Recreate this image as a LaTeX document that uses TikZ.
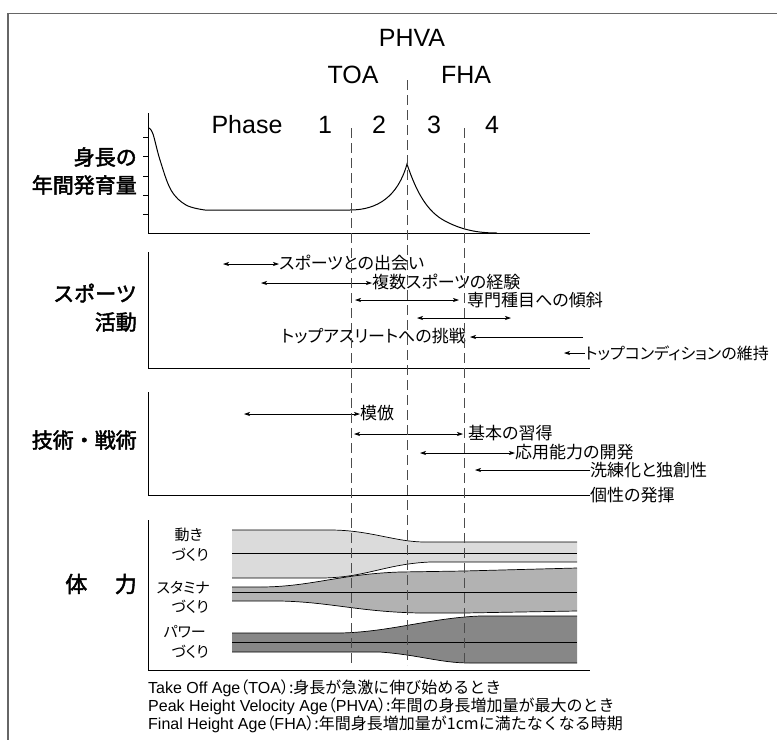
\documentclass[tikz,border=0pt]{standalone}
\usepackage{fontspec}
\setmainfont{Liberation Sans}
\newfontfamily\jp[RawFeature=+palt]{Noto Sans CJK JP}
\newfontfamily\jpf{Noto Sans CJK JP}
\newfontfamily\jpm[AutoFakeBold=2.2]{Noto Sans CJK JP}
\usetikzlibrary{arrows.meta}
\begin{document}
\begin{tikzpicture}[x=1pt,y=-1pt,
  ax/.style={line width=0.9pt},
  dsh/.style={line width=0.9pt, black!70, dash pattern=on 10pt off 5pt},
  lbl/.style={font=\jp\fontsize{17}{20}\selectfont, inner sep=0pt},
  hdr/.style={font=\jpm\bfseries\fontsize{21}{24}\selectfont, inner sep=0pt, anchor=east},
  big/.style={font=\fontsize{25}{29}\selectfont, inner sep=0pt, anchor=base},
  sml/.style={font=\jp\fontsize{15}{17}\selectfont, inner sep=0pt, anchor=east},
  foot/.style={font=\fontsize{16}{15.2}\selectfont, inner sep=0pt, anchor=north west, align=left},
  tip/.style={-{Stealth[length=6pt,width=4pt,inset=1.5pt]}, line width=0.7pt},
  dtip/.style={{Stealth[length=6pt,width=4pt,inset=1.5pt]}-{Stealth[length=6pt,width=4pt,inset=1.5pt]}, line width=0.7pt},
  edge/.style={line width=0.7pt}]
\useasboundingbox (0,0) rectangle (777,740);
% frame
\draw[line width=1.8pt, black!60] (777,13.5) -- (8,13.5) -- (8,740);

% ---------- top labels ----------
\node[big] (phva) at (412,46) {PHVA};
\node[big] (toa) at (353,83) {TOA};
\node[big] (fha) at (466,83) {FHA};
\node[big] (phase) at (247,133) {Phase};
\node[big] (p1) at (325,133) {1};
\node[big] (p2) at (379,133) {2};
\node[big] (p3) at (434,133) {3};
\node[big] (p4) at (492,133) {4};

% ---------- section 1: growth ----------
\node[hdr] (h1a) at (137,157) {身長の};
\node[hdr] (h1b) at (137,185) {年間発育量};
\draw[ax] (148,113) -- (148,233) -- (590,233);
\foreach \yy in {137,156.5,176,195,214.5} \draw[ax] (143,\yy) -- (148,\yy);
\draw[line width=1pt] plot[smooth, tension=0.6] coordinates {(149,128)(153,134)(160,160)(171,190)(186,205)(205,210)}
  -- (350,210) .. controls (378,210) and (398,196) .. (407,164)
  .. controls (417,194) and (428,212) .. (445,221) .. controls (462,230) and (478,233) .. (497,233);

% ---------- section 2: sports ----------
\node[hdr] (h2a) at (137,293) {スポーツ};
\node[hdr] (h2b) at (137,322) {活動};
\draw[ax] (148,252) -- (148,368) -- (590,368);
\node[lbl, anchor=west] (s1) at (279,263) {スポーツとの出会い};
\coordinate (s1a) at (223,264);
\draw[dtip] (s1a) -- (s1.west |- s1a);
\node[lbl, anchor=west] (s2) at (372,282) {複数スポーツの経験};
\coordinate (s2a) at (261,283);
\draw[dtip] (s2a) -- (s2.west |- s2a);
\node[lbl, anchor=west] (s3) at (467,300) {専門種目への傾斜};
\coordinate (s3a) at (355,300);
\coordinate (s3b) at (459,300);
\draw[dtip] (s3a) -- (s3b);
\coordinate (s4a) at (417,318);
\coordinate (s4b) at (511,318);
\draw[dtip] (s4a) -- (s4b);
\node[lbl, anchor=east] (s5) at (466,336) {トップアスリートへの挑戦};
\coordinate (s5a) at (583,337);
\draw[tip] (s5a) -- ([xshift=4pt]s5.east |- s5a);
\node[lbl, anchor=west, font=\jp\fontsize{16}{18}\selectfont] (s6) at (585,353) {トップコンディションの維持};
\coordinate (s6a) at (564,353);
\draw[tip] (s6.west |- s6a) -- (s6a);

% ---------- section 3: technique ----------
\node[hdr] (h3) at (137,440) {技術・戦術};
\node[lbl, anchor=west] (t5) at (590,495) {個性の発揮};
\draw[ax] (148,392) -- (148,495) -- (t5.west);
\node[lbl, anchor=west] (t1) at (360,413) {模倣};
\coordinate (t1a) at (244,414);
\draw[dtip] (t1a) -- (t1.west |- t1a);
\node[lbl, anchor=west] (t2) at (468,433) {基本の習得};
\coordinate (t2a) at (354,434);
\coordinate (t2b) at (463,434);
\draw[dtip] (t2a) -- (t2b);
\node[lbl, anchor=west] (t3) at (515,452) {応用能力の開発};
\coordinate (t3a) at (420,453);
\draw[dtip] (t3a) -- (t3.west |- t3a);
\node[lbl, anchor=west] (t4) at (590,470) {洗練化と独創性};
\coordinate (t4a) at (475,470);
\draw[tip] (t4.west |- t4a) -- (t4a);

% ---------- section 4: physical ----------
\node[hdr, font=\jpm\bfseries\fontsize{22}{24}\selectfont] (h4) at (137,584) {体\hspace{1.25em}力};
% light band
\fill[black!14] (232,530) -- (330,530) .. controls (370,530) and (395,542) .. (425,542) -- (577,542)
  -- (577,562) -- (430,562) .. controls (385,564) and (365,578) .. (320,578) -- (232,578) -- cycle;
\draw[edge] (232,530) -- (330,530) .. controls (370,530) and (395,542) .. (425,542) -- (577,542);
\draw[edge] (232,578) -- (320,578) .. controls (365,578) and (385,564) .. (430,562) -- (577,562);
\draw[edge] (232,553) -- (577,553);
% medium band
\fill[black!30] (232,587) -- (260,587) .. controls (310,587) and (340,574) .. (400,572) -- (464,571) -- (577,568)
  -- (577,611) -- (464,613) -- (420,613) .. controls (360,612) and (330,602) .. (280,601) -- (232,601) -- cycle;
\draw[edge] (232,587) -- (260,587) .. controls (310,587) and (340,574) .. (400,572) -- (464,571) -- (577,568);
\draw[edge] (232,601) -- (280,601) .. controls (330,602) and (360,612) .. (420,613) -- (464,613) -- (577,611);
\draw[edge] (232,592) -- (577,592);
% dark band
\fill[black!47] (232,633) -- (340,633) .. controls (390,632) and (430,618) .. (480,616) -- (577,616)
  -- (577,663) -- (470,663) .. controls (440,663) and (420,655) .. (380,652) -- (232,652) -- cycle;
\draw[edge] (232,633) -- (340,633) .. controls (390,632) and (430,618) .. (480,616) -- (577,616);
\draw[edge] (232,652) -- (380,652) .. controls (420,655) and (440,663) .. (470,663) -- (577,663);
\draw[edge] (232,642) -- (577,642);
\draw[ax] (148,520) -- (148,670) -- (590,670);
\node[sml] (m1) at (203,535) {動き};
\node[sml] (m2) at (209,555) {づくり};
\node[sml] (m3) at (210,588) {スタミナ};
\node[sml] (m4) at (209,607) {づくり};
\node[sml] (m5) at (206,632) {パワー};
\node[sml] (m6) at (209,652) {づくり};

% ---------- dashed lines ----------
\coordinate (dT0) at (351,128); \coordinate (dT1) at (351,665);
\coordinate (dP0) at (407,80);  \coordinate (dP1) at (407,665);
\coordinate (dF0) at (464,128); \coordinate (dF1) at (464,665);
\draw[dsh] (dT0) -- (dT1);
\draw[dsh] (dP0) -- (dP1);
\draw[dsh] (dF0) -- (dF1);

% ---------- footer ----------
\node[foot] (foot) at (148,680) {%
Take Off Age{\jp （}TOA{\jp ）}{\jpf :身長が急激に伸び始めるとき}\\
Peak Height Velocity Age{\jp （}PHVA{\jp ）}{\jpf :年間の身長増加量が最大のとき}\\
Final Height Age{\jp （}FHA{\jp ）}{\jpf :年間身長増加量が1cmに満たなくなる時期}};
\end{tikzpicture}
\end{document}
